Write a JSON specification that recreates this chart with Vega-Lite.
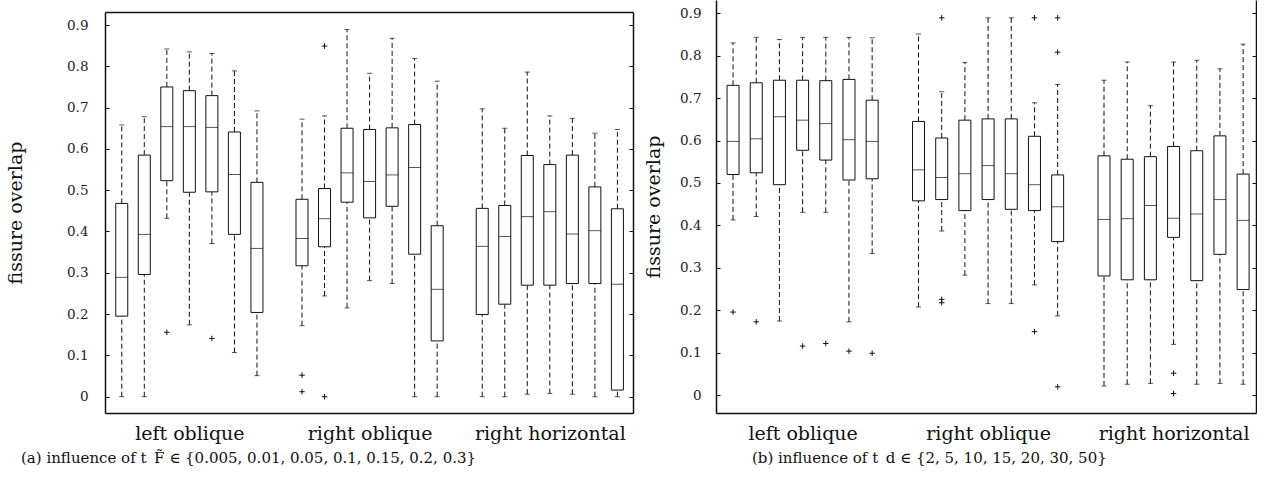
{
  "$schema": "https://vega.github.io/schema/vega-lite/v6.json",
  "padding": {"left": 6, "top": 0, "right": 0, "bottom": 0},
  "config": {
    "view": {"stroke": null},
    "axis": {"labelFont": "DejaVu Serif", "titleFont": "DejaVu Serif", "grid": false, "domainColor": "#111", "tickColor": "#111", "labelColor": "#222", "titleColor": "#111", "titleFontWeight": "normal", "domainWidth": 1.5, "tickWidth": 1},
    "title": {"font": "DejaVu Serif", "fontWeight": "normal", "color": "#111"}
  },
  "datasets": {
    "boxA": [
      {"pos": 1, "lo": 0, "q1": 0.195, "med": 0.289, "q3": 0.468, "hi": 0.658},
      {"pos": 2, "lo": 0, "q1": 0.296, "med": 0.393, "q3": 0.585, "hi": 0.678},
      {"pos": 3, "lo": 0.432, "q1": 0.523, "med": 0.654, "q3": 0.750, "hi": 0.842},
      {"pos": 4, "lo": 0.174, "q1": 0.495, "med": 0.654, "q3": 0.741, "hi": 0.835},
      {"pos": 5, "lo": 0.371, "q1": 0.496, "med": 0.652, "q3": 0.729, "hi": 0.831},
      {"pos": 6, "lo": 0.107, "q1": 0.393, "med": 0.538, "q3": 0.641, "hi": 0.789},
      {"pos": 7, "lo": 0.051, "q1": 0.204, "med": 0.359, "q3": 0.519, "hi": 0.692},
      {"pos": 9, "lo": 0.172, "q1": 0.317, "med": 0.383, "q3": 0.478, "hi": 0.672},
      {"pos": 10, "lo": 0.244, "q1": 0.363, "med": 0.431, "q3": 0.504, "hi": 0.680},
      {"pos": 11, "lo": 0.215, "q1": 0.471, "med": 0.542, "q3": 0.650, "hi": 0.889},
      {"pos": 12, "lo": 0.281, "q1": 0.433, "med": 0.521, "q3": 0.647, "hi": 0.783},
      {"pos": 13, "lo": 0.274, "q1": 0.461, "med": 0.537, "q3": 0.651, "hi": 0.868},
      {"pos": 14, "lo": 0, "q1": 0.345, "med": 0.555, "q3": 0.659, "hi": 0.819},
      {"pos": 15, "lo": 0, "q1": 0.135, "med": 0.260, "q3": 0.414, "hi": 0.764},
      {"pos": 17, "lo": 0, "q1": 0.199, "med": 0.364, "q3": 0.456, "hi": 0.697},
      {"pos": 18, "lo": 0, "q1": 0.224, "med": 0.388, "q3": 0.463, "hi": 0.650},
      {"pos": 19, "lo": 0.006, "q1": 0.270, "med": 0.436, "q3": 0.584, "hi": 0.786},
      {"pos": 20, "lo": 0.008, "q1": 0.270, "med": 0.448, "q3": 0.562, "hi": 0.680},
      {"pos": 21, "lo": 0.006, "q1": 0.274, "med": 0.394, "q3": 0.585, "hi": 0.674},
      {"pos": 22, "lo": 0, "q1": 0.274, "med": 0.402, "q3": 0.508, "hi": 0.638},
      {"pos": 23, "lo": 0, "q1": 0.016, "med": 0.272, "q3": 0.455, "hi": 0.647}
    ],
    "outA": [
      {"pos": 3, "v": 0.156},
      {"pos": 5, "v": 0.141},
      {"pos": 9, "v": 0.052},
      {"pos": 9, "v": 0.012},
      {"pos": 10, "v": 0.849},
      {"pos": 10, "v": 0}
    ],
    "boxB": [
      {"pos": 1, "lo": 0.413, "q1": 0.520, "med": 0.598, "q3": 0.730, "hi": 0.830},
      {"pos": 2, "lo": 0.421, "q1": 0.524, "med": 0.604, "q3": 0.736, "hi": 0.843},
      {"pos": 3, "lo": 0.175, "q1": 0.496, "med": 0.656, "q3": 0.742, "hi": 0.838},
      {"pos": 4, "lo": 0.431, "q1": 0.577, "med": 0.648, "q3": 0.742, "hi": 0.843},
      {"pos": 5, "lo": 0.431, "q1": 0.554, "med": 0.640, "q3": 0.741, "hi": 0.843},
      {"pos": 6, "lo": 0.173, "q1": 0.507, "med": 0.602, "q3": 0.744, "hi": 0.843},
      {"pos": 7, "lo": 0.334, "q1": 0.510, "med": 0.598, "q3": 0.695, "hi": 0.842},
      {"pos": 9, "lo": 0.208, "q1": 0.458, "med": 0.531, "q3": 0.645, "hi": 0.851},
      {"pos": 10, "lo": 0.387, "q1": 0.461, "med": 0.513, "q3": 0.606, "hi": 0.715},
      {"pos": 11, "lo": 0.283, "q1": 0.435, "med": 0.522, "q3": 0.648, "hi": 0.784},
      {"pos": 12, "lo": 0.216, "q1": 0.461, "med": 0.541, "q3": 0.651, "hi": 0.889},
      {"pos": 13, "lo": 0.216, "q1": 0.438, "med": 0.522, "q3": 0.651, "hi": 0.889},
      {"pos": 14, "lo": 0.260, "q1": 0.435, "med": 0.496, "q3": 0.610, "hi": 0.689},
      {"pos": 15, "lo": 0.187, "q1": 0.362, "med": 0.444, "q3": 0.519, "hi": 0.732},
      {"pos": 17, "lo": 0.022, "q1": 0.281, "med": 0.414, "q3": 0.564, "hi": 0.742},
      {"pos": 18, "lo": 0.026, "q1": 0.272, "med": 0.416, "q3": 0.556, "hi": 0.785},
      {"pos": 19, "lo": 0.028, "q1": 0.272, "med": 0.447, "q3": 0.562, "hi": 0.682},
      {"pos": 20, "lo": 0.120, "q1": 0.372, "med": 0.417, "q3": 0.586, "hi": 0.785},
      {"pos": 21, "lo": 0.026, "q1": 0.270, "med": 0.427, "q3": 0.576, "hi": 0.789},
      {"pos": 22, "lo": 0.028, "q1": 0.332, "med": 0.461, "q3": 0.611, "hi": 0.769},
      {"pos": 23, "lo": 0.026, "q1": 0.249, "med": 0.412, "q3": 0.521, "hi": 0.827}
    ],
    "outB": [
      {"pos": 1, "v": 0.196},
      {"pos": 2, "v": 0.173},
      {"pos": 4, "v": 0.116},
      {"pos": 5, "v": 0.122},
      {"pos": 6, "v": 0.104},
      {"pos": 7, "v": 0.099},
      {"pos": 10, "v": 0.889},
      {"pos": 10, "v": 0.226},
      {"pos": 10, "v": 0.218},
      {"pos": 14, "v": 0.889},
      {"pos": 14, "v": 0.150},
      {"pos": 15, "v": 0.889},
      {"pos": 15, "v": 0.808},
      {"pos": 15, "v": 0.020},
      {"pos": 20, "v": 0.052},
      {"pos": 20, "v": 0.004}
    ]
  },
  "spacing": 10,
  "hconcat": [
    {
      "spacing": 0,
      "vconcat": [
        {"width": 10, "height": 12, "data": {"values": []}, "mark": {"type": "rule", "opacity": 0}, "encoding": {}},
        {
          "width": 528,
          "height": 401,
          "title": {"text": "(a) influence of t_F\u0303 \u2208 {0.005, 0.01, 0\u0332.\u03320\u03325\u0332, 0.1, 0.15, 0.2, 0.3}", "orient": "bottom", "anchor": "start", "frame": "group", "dx": -84, "offset": 8, "fontSize": 15},
          "resolve": {"axis": {"x": "independent", "y": "independent"}},
          "layer": [
            {
              "data": {"name": "boxA"},
              "mark": {"type": "rule", "strokeDash": [5, 3], "color": "#111", "strokeWidth": 1},
              "encoding": {
                "x": {"field": "pos", "type": "quantitative", "scale": {"domain": [0.478, 23.47], "nice": false, "zero": false},
                      "axis": {"orient": "bottom", "values": [4, 12, 20], "labelExpr": "datum.value == 4 ? 'left oblique' : datum.value == 12 ? 'right oblique' : 'right horizontal'", "ticks": false, "labelPadding": 11, "labelFontSize": 19, "labelFlush": false, "labelOverlap": false, "labelColor": "#111", "title": null}},
                "y": {"field": "lo", "type": "quantitative", "scale": {"domain": [-0.0395, 0.9315], "nice": false, "zero": false},
                      "axis": {"orient": "left", "values": [0, 0.1, 0.2, 0.3, 0.4, 0.5, 0.6, 0.7, 0.8, 0.9], "format": ".1~f", "tickSize": -4, "labelPadding": 21, "labelFontSize": 13.5, "title": "fissure overlap", "titleFontSize": 19, "titlePadding": 41}},
                "y2": {"field": "q1"}
              }
            },
            {
              "data": {"name": "boxA"},
              "mark": {"type": "rule", "strokeDash": [5, 3], "color": "#111", "strokeWidth": 1},
              "encoding": {
                "x": {"field": "pos", "type": "quantitative", "axis": {"orient": "top", "labels": false, "ticks": false, "title": null}},
                "y": {"field": "q3", "type": "quantitative", "axis": {"orient": "right", "values": [0, 0.1, 0.2, 0.3, 0.4, 0.5, 0.6, 0.7, 0.8, 0.9], "labels": false, "tickSize": -4, "title": null}},
                "y2": {"field": "hi"}
              }
            },
            {
              "data": {"name": "boxA"},
              "mark": {"type": "bar", "size": 12, "fill": "white", "stroke": "#111", "strokeWidth": 1},
              "encoding": {
                "x": {"field": "pos", "type": "quantitative", "axis": null},
                "y": {"field": "q1", "type": "quantitative", "axis": null},
                "y2": {"field": "q3"}
              }
            },
            {
              "data": {"name": "boxA"},
              "mark": {"type": "tick", "orient": "horizontal", "size": 12, "thickness": 1, "color": "#111"},
              "encoding": {
                "x": {"field": "pos", "type": "quantitative", "axis": null},
                "y": {"field": "med", "type": "quantitative", "axis": null}
              }
            },
            {
              "data": {"name": "boxA"},
              "mark": {"type": "tick", "orient": "horizontal", "size": 5, "thickness": 1, "color": "#111"},
              "encoding": {
                "x": {"field": "pos", "type": "quantitative", "axis": null},
                "y": {"field": "lo", "type": "quantitative", "axis": null}
              }
            },
            {
              "data": {"name": "boxA"},
              "mark": {"type": "tick", "orient": "horizontal", "size": 5, "thickness": 1, "color": "#111"},
              "encoding": {
                "x": {"field": "pos", "type": "quantitative", "axis": null},
                "y": {"field": "hi", "type": "quantitative", "axis": null}
              }
            },
            {
              "data": {"name": "outA"},
              "mark": {"type": "point", "shape": "M-1,0H1M0,-1V1", "filled": false, "stroke": "#111", "strokeWidth": 1, "size": 30, "opacity": 1},
              "encoding": {
                "x": {"field": "pos", "type": "quantitative", "axis": null},
                "y": {"field": "v", "type": "quantitative", "axis": null}
              }
            }
          ]
        }
      ]
    },
    {
      "width": 540,
      "height": 413,
      "title": {"text": "(b) influence of t_d \u2208 {2, 5, 1\u03320\u0332, 15, 20, 30, 50}", "orient": "bottom", "anchor": "start", "frame": "group", "dx": 36, "offset": 8, "fontSize": 15},
      "resolve": {"axis": {"x": "independent", "y": "independent"}},
      "layer": [
        {
          "data": {"name": "boxB"},
          "mark": {"type": "rule", "strokeDash": [5, 3], "color": "#111", "strokeWidth": 1},
          "encoding": {
            "x": {"field": "pos", "type": "quantitative", "scale": {"domain": [0.48, 23.34], "nice": false, "zero": false},
                  "axis": {"orient": "bottom", "values": [4, 12, 20], "labelExpr": "datum.value == 4 ? 'left oblique' : datum.value == 12 ? 'right oblique' : 'right horizontal'", "ticks": false, "labelPadding": 11, "labelFontSize": 19, "labelFlush": false, "labelOverlap": false, "labelColor": "#111", "title": null}},
            "y": {"field": "lo", "type": "quantitative", "scale": {"domain": [-0.0417, 0.931], "nice": false, "zero": false},
                  "axis": {"orient": "left", "values": [0, 0.1, 0.2, 0.3, 0.4, 0.5, 0.6, 0.7, 0.8, 0.9], "format": ".1~f", "tickSize": -4, "labelPadding": 19, "labelFontSize": 13.5, "title": "fissure overlap", "titleFontSize": 19, "titlePadding": 16}},
            "y2": {"field": "q1"}
          }
        },
        {
          "data": {"name": "boxB"},
          "mark": {"type": "rule", "strokeDash": [5, 3], "color": "#111", "strokeWidth": 1},
          "encoding": {
            "x": {"field": "pos", "type": "quantitative", "axis": null},
            "y": {"field": "q3", "type": "quantitative", "axis": {"orient": "right", "values": [0, 0.1, 0.2, 0.3, 0.4, 0.5, 0.6, 0.7, 0.8, 0.9], "labels": false, "tickSize": -4, "title": null}},
            "y2": {"field": "hi"}
          }
        },
        {
          "data": {"name": "boxB"},
          "mark": {"type": "bar", "size": 12, "fill": "white", "stroke": "#111", "strokeWidth": 1},
          "encoding": {
            "x": {"field": "pos", "type": "quantitative", "axis": null},
            "y": {"field": "q1", "type": "quantitative", "axis": null},
            "y2": {"field": "q3"}
          }
        },
        {
          "data": {"name": "boxB"},
          "mark": {"type": "tick", "orient": "horizontal", "size": 12, "thickness": 1, "color": "#111"},
          "encoding": {
            "x": {"field": "pos", "type": "quantitative", "axis": null},
            "y": {"field": "med", "type": "quantitative", "axis": null}
          }
        },
        {
          "data": {"name": "boxB"},
          "mark": {"type": "tick", "orient": "horizontal", "size": 5, "thickness": 1, "color": "#111"},
          "encoding": {
            "x": {"field": "pos", "type": "quantitative", "axis": null},
            "y": {"field": "lo", "type": "quantitative", "axis": null}
          }
        },
        {
          "data": {"name": "boxB"},
          "mark": {"type": "tick", "orient": "horizontal", "size": 5, "thickness": 1, "color": "#111"},
          "encoding": {
            "x": {"field": "pos", "type": "quantitative", "axis": null},
            "y": {"field": "hi", "type": "quantitative", "axis": null}
          }
        },
        {
          "data": {"name": "outB"},
          "mark": {"type": "point", "shape": "M-1,0H1M0,-1V1", "filled": false, "stroke": "#111", "strokeWidth": 1, "size": 30, "opacity": 1},
          "encoding": {
            "x": {"field": "pos", "type": "quantitative", "axis": null},
            "y": {"field": "v", "type": "quantitative", "axis": null}
          }
        }
      ]
    }
  ]
}
